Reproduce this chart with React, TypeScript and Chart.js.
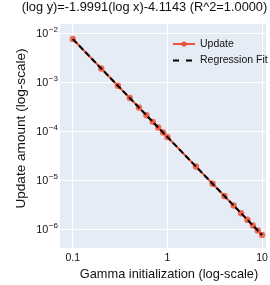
import React, { useEffect, useRef } from 'react';
import { Chart, registerables } from 'chart.js';

Chart.register(...registerables);

const gammaInit = [0.1, 0.2, 0.3, 0.4, 0.5, 0.6, 0.7, 0.8, 0.9, 1, 2, 3, 4, 5, 6, 7, 8, 9, 10];
const updateAmount = [
  7.67e-3, 1.919e-3, 8.53e-4, 4.8e-4, 3.073e-4, 2.134e-4, 1.568e-4, 1.201e-4, 9.49e-5, 7.687e-5,
  1.923e-5, 8.55e-6, 4.81e-6, 3.079e-6, 2.139e-6, 1.572e-6, 1.203e-6, 9.51e-7, 7.7e-7,
];
const fitX = [0.1, 10];
const fitY = [7.67e-3, 7.7e-7];

const xTickValues = [0.1, 1, 10];
const xTickLabels = ['0.1', '1', '10'];
const yTickValues = [1e-2, 1e-3, 1e-4, 1e-5, 1e-6];
const yTickExponents = ['\u22122', '\u22123', '\u22124', '\u22125', '\u22126'];

const TITLE = '(log y)=-1.9991(log x)-4.1143 (R^2=1.0000)';
const X_TITLE = 'Gamma initialization (log-scale)';
const Y_TITLE = 'Update amount (log-scale)';
const LEGEND_LABELS = ['Update', 'Regression Fit'];

const FONT = '"Liberation Sans", Arial, sans-serif';
const RED = '#EF553B';
const BG = '#E5ECF6';

const overlayPlugin = {
  id: 'overlay',
  beforeDraw(chart: any) {
    const { ctx, chartArea } = chart;
    ctx.save();
    ctx.fillStyle = BG;
    ctx.fillRect(chartArea.left, chartArea.top, chartArea.right - chartArea.left, chartArea.bottom - chartArea.top);
    ctx.restore();
  },
  afterDraw(chart: any) {
    const ctx = chart.ctx;
    const xs = chart.scales.x;
    const ys = chart.scales.y;
    ctx.save();
    ctx.fillStyle = '#111';
    ctx.textBaseline = 'middle';

    // title
    ctx.font = `12.8px ${FONT}`;
    ctx.textAlign = 'center';
    ctx.fillText(TITLE, 144.5, 7);

    // x tick labels
    ctx.font = `10.5px ${FONT}`;
    xTickValues.forEach((v, i) => {
      ctx.fillText(xTickLabels[i], xs.getPixelForValue(v), 258);
    });

    // y tick labels with superscripts
    yTickValues.forEach((v, i) => {
      const py = ys.getPixelForValue(v);
      ctx.font = `8px ${FONT}`;
      const sup = yTickExponents[i];
      const w = ctx.measureText(sup).width;
      ctx.textAlign = 'left';
      ctx.fillText(sup, 58 - w, py - 4);
      ctx.font = `10.8px ${FONT}`;
      ctx.textAlign = 'right';
      ctx.fillText('10', 58 - w - 0.5, py + 1);
    });

    // axis titles
    ctx.font = `12.8px ${FONT}`;
    ctx.textAlign = 'center';
    ctx.fillText(X_TITLE, 169, 274);
    ctx.save();
    ctx.translate(21, 128.5);
    ctx.rotate(-Math.PI / 2);
    ctx.font = `13.6px ${FONT}`;
    ctx.fillText(Y_TITLE, 0, 0);
    ctx.restore();

    // legend
    ctx.font = `10.5px ${FONT}`;
    ctx.textAlign = 'left';
    ctx.strokeStyle = RED;
    ctx.lineWidth = 2;
    ctx.beginPath();
    ctx.moveTo(173, 44);
    ctx.lineTo(195, 44);
    ctx.stroke();
    ctx.fillStyle = RED;
    ctx.beginPath();
    ctx.arc(184, 44, 2.6, 0, Math.PI * 2);
    ctx.fill();
    ctx.fillStyle = '#111';
    ctx.fillText(LEGEND_LABELS[0], 200, 44);
    ctx.strokeStyle = '#000';
    ctx.setLineDash([6, 7]);
    ctx.beginPath();
    ctx.moveTo(173, 60.5);
    ctx.lineTo(193, 60.5);
    ctx.stroke();
    ctx.setLineDash([]);
    ctx.fillText(LEGEND_LABELS[1], 200, 60.5);
    ctx.restore();
  },
};

export default function App() {
  const ref = useRef<HTMLCanvasElement>(null);
  useEffect(() => {
    if (!ref.current) return;
    const chart = new Chart(ref.current, {
      type: 'line',
      data: {
        datasets: [
          {
            label: LEGEND_LABELS[1],
            data: fitX.map((x, i) => ({ x, y: fitY[i] })),
            borderColor: '#000',
            borderWidth: 2,
            borderDash: [6, 3],
            pointRadius: 0,
            fill: false,
          },
          {
            label: LEGEND_LABELS[0],
            data: gammaInit.map((x, i) => ({ x, y: updateAmount[i] })),
            borderColor: RED,
            backgroundColor: RED,
            borderWidth: 2,
            pointRadius: 3.2,
            pointBorderWidth: 0,
            pointBackgroundColor: 'rgba(239,85,59,0.85)',
            fill: false,
          },
        ],
      },
      options: {
        animation: false,
        responsive: true,
        maintainAspectRatio: false,
        layout: { padding: { top: 24, left: 0, right: 0, bottom: 0 } },
        plugins: { legend: { display: false }, tooltip: { enabled: false }, title: { display: false } },
        scales: {
          x: {
            type: 'logarithmic',
            min: 0.0733,
            max: 11.0,
            border: { display: false },
            grid: { color: '#ffffff', lineWidth: 1, drawTicks: false },
            ticks: { display: false },
            afterBuildTicks: (scale: any) => {
              scale.ticks = xTickValues.map((v) => ({ value: v, major: true }));
            },
            afterFit: (scale: any) => {
              scale.height = 37;
            },
          },
          y: {
            type: 'logarithmic',
            min: 4.17e-7,
            max: 1.556e-2,
            border: { display: false },
            grid: { color: '#ffffff', lineWidth: 1, drawTicks: false },
            ticks: { display: false },
            afterBuildTicks: (scale: any) => {
              scale.ticks = yTickValues.map((v) => ({ value: v, major: true }));
            },
            afterFit: (scale: any) => {
              scale.width = 60;
            },
          },
        },
      },
      plugins: [overlayPlugin],
    });
    return () => chart.destroy();
  }, []);
  return (
    <div style={{ position: 'absolute', left: 0, top: 0, width: 270, height: 285 }}>
      <canvas ref={ref} />
    </div>
  );
}
